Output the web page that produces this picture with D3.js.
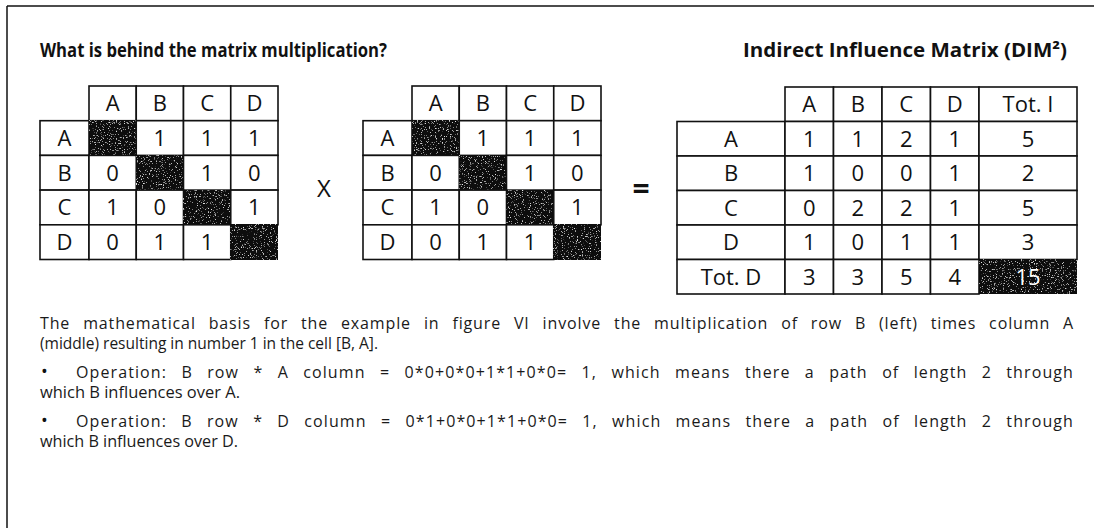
<!DOCTYPE html>
<html>
<head>
<meta charset="utf-8">
<script src="https://cdn.jsdelivr.net/npm/d3@7"></script>
<style>
  body { margin: 0; background: #fff; }
  svg { display: block; }
  text { font-family: "Open Sans", "Noto Sans", sans-serif; fill: #111; }
</style>
</head>
<body>
<div id="chart"></div>
<script>
const width = 1094;
const height = 528;

const letters = ["A", "B", "C", "D"];

// left and middle matrices (null = diagonal, drawn dark)
const leftValues = [
  [null, 1, 1, 1],
  [0, null, 1, 0],
  [1, 0, null, 1],
  [0, 1, 1, null]
];
const middleValues = [
  [null, 1, 1, 1],
  [0, null, 1, 0],
  [1, 0, null, 1],
  [0, 1, 1, null]
];

// indirect influence matrix
const resultValues = [
  [1, 1, 2, 1],
  [1, 0, 0, 1],
  [0, 2, 2, 1],
  [1, 0, 1, 1]
];
const totI = [5, 2, 5, 3];
const totD = [3, 3, 5, 4];
const grandTotal = 15;

const leftTitle = "What is behind the matrix multiplication?";
const rightTitle = "Indirect Influence Matrix (DIM²)";

// [bullet?, justified first line, last line]
const paragraphs = [
  [false, "The mathematical basis for the example in figure VI involve the multiplication of row B (left) times column A",
   "(middle) resulting in number 1 in the cell [B, A]."],
  [true, "Operation: B row * A column = 0*0+0*0+1*1+0*0= 1, which means there a path of length 2 through",
   "which B influences over A."],
  [true, "Operation: B row * D column = 0*1+0*0+1*1+0*0= 1, which means there a path of length 2 through",
   "which B influences over D."]
];

const svg = d3.select("#chart").append("svg")
  .attr("width", width).attr("height", height);

// speckle texture for the dark cells
const defs = svg.append("defs");
const f = defs.append("filter").attr("id", "speckle")
  .attr("x", 0).attr("y", 0).attr("width", 1).attr("height", 1);
f.append("feTurbulence").attr("type", "fractalNoise").attr("baseFrequency", 0.85)
  .attr("numOctaves", 2).attr("seed", 5).attr("result", "noise");
f.append("feColorMatrix").attr("in", "noise").attr("type", "matrix")
  .attr("values", "0 0 0 0 0.8  0 0 0 0 0.8  0 0 0 0 0.8  5 0 0 0 -3.1")
  .attr("result", "dots");
f.append("feComposite").attr("in", "dots").attr("in2", "SourceGraphic")
  .attr("operator", "in").attr("result", "clipped");
const merge = f.append("feMerge");
merge.append("feMergeNode").attr("in", "SourceGraphic");
merge.append("feMergeNode").attr("in", "clipped");

// frame
svg.append("line").attr("x1", 7).attr("x2", width).attr("y1", 6).attr("y2", 6)
  .attr("stroke", "#111").attr("stroke-width", 1.5);
svg.append("line").attr("x1", 7).attr("x2", 7).attr("y1", 6).attr("y2", height)
  .attr("stroke", "#111").attr("stroke-width", 1.5);

// titles
svg.append("text").attr("x", 40).attr("y", 57)
  .attr("font-size", 19).attr("font-weight", 700)
  .attr("textLength", 347).attr("lengthAdjust", "spacingAndGlyphs")
  .text(leftTitle);
svg.append("text").attr("x", 743).attr("y", 57)
  .attr("font-size", 19).attr("font-weight", 700)
  .attr("textLength", 324).attr("lengthAdjust", "spacingAndGlyphs")
  .text(rightTitle);

const stroke = "#111";
const lw = 1.6;
const dark = "#111";
const fontSize = 22;

function cell(g, x, y, w, h, label, fill, color) {
  const r = g.append("rect").attr("x", x).attr("y", y).attr("width", w).attr("height", h)
    .attr("fill", fill || "#fff").attr("stroke", stroke).attr("stroke-width", lw);
  if (fill) r.attr("filter", "url(#speckle)");
  if (label !== null && label !== undefined) {
    g.append("text").attr("x", x + w / 2).attr("y", y + h / 2)
      .attr("dy", "0.36em").attr("text-anchor", "middle")
      .attr("font-size", fontSize)
      .style("fill", color || "#111")
      .text(label);
  }
}

function drawMatrix(opts) {
  const g = svg.append("g");
  const x = d3.scaleBand().domain(letters).range([opts.x0, opts.x1]);
  const rowsDomain = ["head"].concat(letters).concat(opts.totRow ? ["tot"] : []);
  const y = d3.scaleBand().domain(rowsDomain).range([opts.y0, opts.y1]);

  // header
  letters.forEach(c => cell(g, x(c), y("head"), x.bandwidth(), y.bandwidth(), c));
  if (opts.totCol) cell(g, opts.x1, y("head"), opts.totW, y.bandwidth(), "Tot. I");

  letters.forEach((r, i) => {
    cell(g, opts.labelX, y(r), opts.x0 - opts.labelX, y.bandwidth(), r);
    letters.forEach((c, j) => {
      const v = opts.values[i][j];
      if (v === null) cell(g, x(c), y(r), x.bandwidth(), y.bandwidth(), null, dark);
      else cell(g, x(c), y(r), x.bandwidth(), y.bandwidth(), v);
    });
    if (opts.totCol) cell(g, opts.x1, y(r), opts.totW, y.bandwidth(), opts.totCol[i]);
  });

  if (opts.totRow) {
    cell(g, opts.labelX, y("tot"), opts.x0 - opts.labelX, y.bandwidth(), "Tot. D");
    letters.forEach((c, j) => cell(g, x(c), y("tot"), x.bandwidth(), y.bandwidth(), opts.totRow[j]));
    cell(g, opts.x1, y("tot"), opts.totW, y.bandwidth(), opts.total, dark, "#fff");
  }
}

drawMatrix({ labelX: 40, x0: 89, x1: 278, y0: 86, y1: 259.5, values: leftValues });
drawMatrix({ labelX: 363, x0: 412, x1: 601, y0: 86, y1: 259.5, values: middleValues });
drawMatrix({ labelX: 677, x0: 785, x1: 979, y0: 87, y1: 294, values: resultValues,
  totCol: totI, totRow: totD, total: grandTotal, totW: 98 });

// operators
svg.append("text").attr("x", 324).attr("y", 188).attr("dy", "0.36em")
  .attr("text-anchor", "middle").attr("font-size", 24).text("X");
svg.append("text").attr("x", 641).attr("y", 188).attr("dy", "0.36em")
  .attr("text-anchor", "middle").attr("font-size", 30).attr("font-weight", 700).text("=");

// body text: first lines justified with letter + word spacing
const bodySize = 16;
const lineY = [[329, 349], [378, 398], [427, 447]];
const shortW = [338, 200, 198];
const rightEdge = 1074;

function justify(sel, target) {
  const natural = sel.node().getComputedTextLength();
  const str = sel.text();
  const spaces = (str.match(/ /g) || []).length;
  const extra = target - natural;
  const ls = 0.4 * extra / str.length;
  const ws = 0.6 * extra / spaces;
  sel.attr("letter-spacing", ls).attr("word-spacing", ws);
}

paragraphs.forEach((p, i) => {
  let x0 = 40;
  if (p[0]) {
    svg.append("text").attr("x", 41).attr("y", lineY[i][0])
      .attr("font-size", bodySize + 2).text("•");
    x0 = 76;
  }
  const t = svg.append("text").attr("x", x0).attr("y", lineY[i][0])
    .attr("font-size", bodySize).style("fill", "#1a1a1a").text(p[1]);
  const natural = t.node().getComputedTextLength();
  if (natural > rightEdge - x0) {
    t.attr("textLength", rightEdge - x0).attr("lengthAdjust", "spacingAndGlyphs");
  } else {
    justify(t, rightEdge - x0);
  }
  svg.append("text").attr("x", 40).attr("y", lineY[i][1])
    .attr("font-size", bodySize).style("fill", "#1a1a1a")
    .attr("textLength", shortW[i]).attr("lengthAdjust", "spacingAndGlyphs")
    .text(p[2]);
});
</script>
</body>
</html>
